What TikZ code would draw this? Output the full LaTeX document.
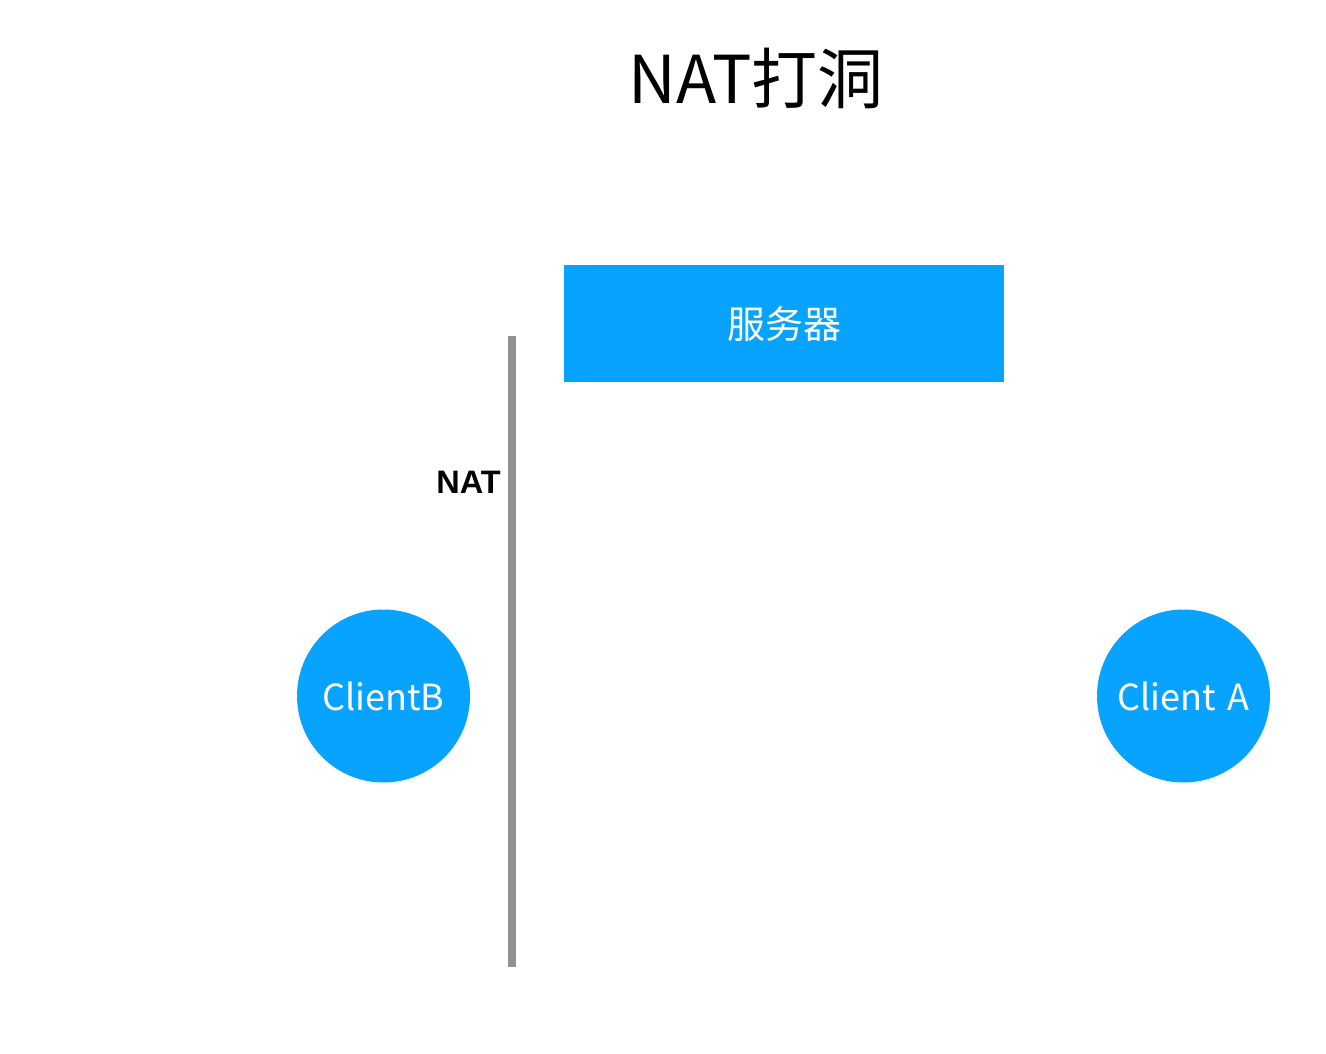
\documentclass[tikz,border=0pt]{standalone}
\usepackage{fontspec}
\setmainfont{Noto Sans CJK SC}
\newfontfamily\natfont{Liberation Sans Bold}
\definecolor{nodeblue}{HTML}{08A3FE}
\definecolor{natgray}{HTML}{919191}
\begin{document}
\begin{tikzpicture}[x=1pt,y=-1pt,
  blueshape/.style={fill=nodeblue,draw=none,text=white,inner sep=0pt},
  clientnode/.style={blueshape,circle,minimum size=173pt,font=\fontsize{36}{40}\selectfont},
]
\useasboundingbox (0,0) rectangle (1326,1054);
\node[font=\fontsize{66}{72}\selectfont] (title) at (756,78) {NAT打洞};
\node[blueshape,rectangle,minimum width=440pt,minimum height=117pt,anchor=north west,font=\fontsize{38}{42}\selectfont] (server) at (564,265) {服务器};
\coordinate (nattop) at (512,336);
\coordinate (natbot) at (512,967);
\draw[natgray,line width=8pt] (nattop) -- (natbot);
\node[anchor=east,font=\natfont\fontsize{32.5}{36}\selectfont,inner sep=0pt] (natlabel) at (501,482) {NAT};
\node[clientnode] (clientB) at (383.5,696) {ClientB};
\node[clientnode] (clientA) at (1183.5,696) {Client\,\,A};
\end{tikzpicture}
\end{document}
